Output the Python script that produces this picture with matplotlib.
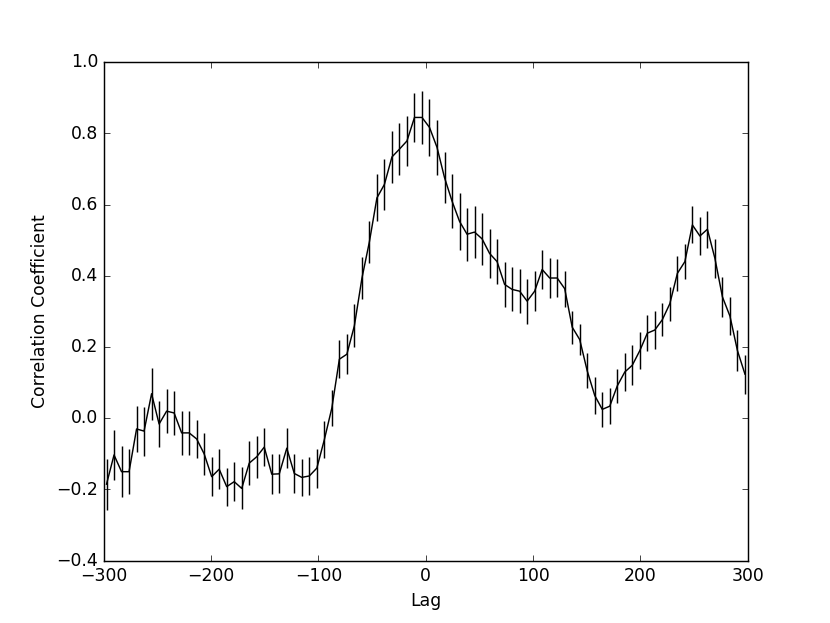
import matplotlib
matplotlib.use("Agg")
import matplotlib.pyplot as plt
import numpy

# lag grid (evenly spaced, 86 lags)
lags = numpy.arange(-297.5, 298.0, 7.0)

corr = [
    -0.185, -0.103, -0.150, -0.150, -0.030, -0.036, 0.069, -0.016, 0.020, 0.015,
    -0.041, -0.041, -0.058, -0.100, -0.164, -0.143, -0.192, -0.178, -0.197, -0.126,
    -0.108, -0.081, -0.157, -0.156, -0.084, -0.155, -0.166, -0.162, -0.140, -0.060,
    0.029, 0.166, 0.180, 0.260, 0.393, 0.496, 0.619, 0.657, 0.734, 0.756,
    0.779, 0.845, 0.845, 0.817, 0.761, 0.676, 0.610, 0.553, 0.517, 0.523,
    0.504, 0.463, 0.440, 0.376, 0.362, 0.357, 0.329, 0.357, 0.418, 0.394,
    0.394, 0.364, 0.256, 0.221, 0.133, 0.064, 0.025, 0.034, 0.091, 0.130,
    0.149, 0.190, 0.239, 0.248, 0.277, 0.322, 0.407, 0.440, 0.543, 0.512,
    0.531, 0.449, 0.341, 0.287, 0.190, 0.124,
]

corr_err = [
    0.072, 0.070, 0.071, 0.064, 0.065, 0.069, 0.073, 0.065, 0.062, 0.061,
    0.062, 0.061, 0.054, 0.058, 0.054, 0.057, 0.053, 0.054, 0.059, 0.061,
    0.059, 0.054, 0.057, 0.055, 0.056, 0.056, 0.052, 0.054, 0.055, 0.052,
    0.050, 0.054, 0.057, 0.060, 0.059, 0.059, 0.066, 0.071, 0.074, 0.073,
    0.071, 0.069, 0.075, 0.081, 0.078, 0.072, 0.075, 0.079, 0.075, 0.073,
    0.073, 0.068, 0.063, 0.063, 0.062, 0.061, 0.063, 0.057, 0.054, 0.056,
    0.054, 0.051, 0.046, 0.044, 0.049, 0.052, 0.049, 0.051, 0.047, 0.054,
    0.056, 0.052, 0.050, 0.053, 0.047, 0.048, 0.050, 0.050, 0.052, 0.052,
    0.052, 0.054, 0.057, 0.054, 0.057, 0.055,
]

plt.style.use("classic")

fig, ax = plt.subplots(figsize=(8, 6))
ax.errorbar(lags, corr, yerr=corr_err, color="k", ecolor="k", capsize=0, linewidth=1.0)

ax.set_xlim(-300, 300)
ax.set_ylim(-0.4, 1.0)
ax.set_xlabel("Lag")
ax.set_ylabel("Correlation Coefficient")

fig.savefig("out.png", dpi=103.84, facecolor="white")
